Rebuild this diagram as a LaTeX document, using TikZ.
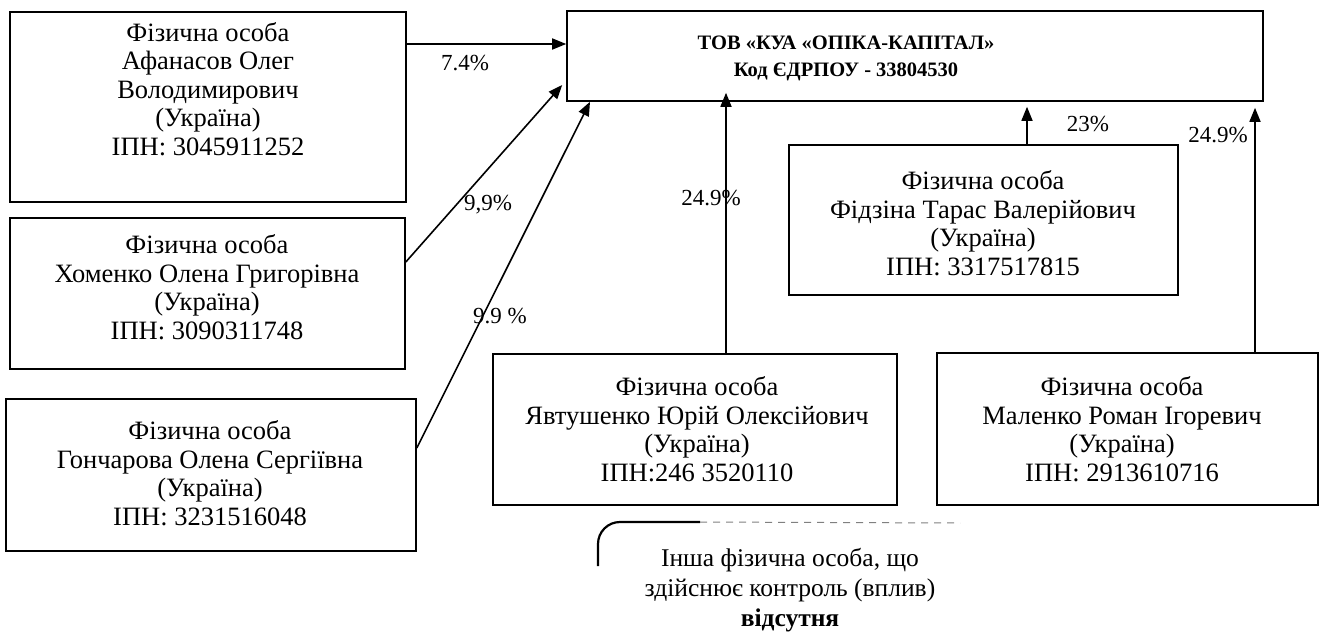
\documentclass[tikz,border=0pt]{standalone}
\usepackage{fontspec}
\setmainfont{Liberation Serif}
\usetikzlibrary{arrows.meta}
\tikzset{
  box/.style={draw, line width=1.6pt, inner sep=0pt},
  txt/.style={align=center, inner sep=0pt, font=\fontsize{26.5}{28.5}\selectfont},
  toptxt/.style={align=center, inner sep=0pt, font=\fontsize{20.5}{27}\selectfont\bfseries},
  arr/.style={line width=1.6pt, -{Triangle[length=14pt,width=11pt]}},
  lbl/.style={inner sep=0pt, font=\fontsize{23}{26}\selectfont}
}
\begin{document}
\begin{tikzpicture}[x=1pt,y=-1pt]
\useasboundingbox (0,0) rectangle (1322,634);
% boxes
\node[box, minimum width=696pt, minimum height=90pt] (top) at (915,56) {};
\node[box, minimum width=396pt, minimum height=190pt] (afa) at (208,107) {};
\node[box, minimum width=395pt, minimum height=151pt] (kho) at (207.5,293.5) {};
\node[box, minimum width=410pt, minimum height=152pt] (gon) at (211,475) {};
\node[box, minimum width=404pt, minimum height=151pt] (yav) at (695,429.5) {};
\node[box, minimum width=381pt, minimum height=152pt] (mal) at (1127.5,429) {};
\node[box, minimum width=389pt, minimum height=150pt] (fid) at (983.5,220) {};
% texts
\node[toptxt] (ttop) at (846,58.5) {ТОВ «КУА «ОПІКА-КАПІТАЛ»\\Код ЄДРПОУ - 33804530};
\node[txt] (tafa) at (208,89) {Фізична особа\\Афанасов Олег\\Володимирович\\(Україна)\\ІПН: 3045911252};
\node[txt] (tkho) at (207,287) {Фізична особа\\Хоменко Олена Григорівна\\(Україна)\\ІПН: 3090311748};
\node[txt] (tgon) at (210,473) {Фізична особа\\Гончарова Олена Сергіївна\\(Україна)\\ІПН: 3231516048};
\node[txt] (tyav) at (697,429) {Фізична особа\\Явтушенко Юрій Олексійович\\(Україна)\\ІПН:246 3520110};
\node[txt] (tmal) at (1122,429) {Фізична особа\\Маленко Роман Ігоревич\\(Україна)\\ІПН: 2913610716};
\node[txt] (tfid) at (983,223) {Фізична особа\\Фідзіна Тарас Валерійович\\(Україна)\\ІПН: 3317517815};
% helper coordinates
\coordinate (ya) at (0,44);
\coordinate (yk1) at (0,262);
\coordinate (yk2) at (0,85);
\coordinate (yg1) at (0,448);
\coordinate (xg2) at (590,0);
\coordinate (xy) at (726,0);
\coordinate (xf) at (1027,0);
\coordinate (xm) at (1255,0);
% connectors
\draw[arr] (afa.east |- ya) -- (top.west |- ya);
\draw[arr] (kho.east |- yk1) -- ([xshift=-4pt]top.west |- yk2);
\draw[arr] (gon.east |- yg1) -- (top.south -| xg2);
\draw[arr, shorten >=-9pt] (yav.north -| xy) -- (top.south -| xy);
\draw[arr, shorten >=5pt] (fid.north -| xf) -- (top.south -| xf);
\draw[arr, shorten >=6pt] (mal.north -| xm) -- (top.south -| xm);
% labels
\node[lbl] (la) at (465,63) {7.4\%};
\node[lbl] (lk) at (488,205) {9,9\%};
\node[lbl] (lg) at (500,316) {9.9 \%};
\node[lbl] (ly) at (711,198) {24.9\%};
\node[lbl] (lf) at (1088,124) {23\%};
\node[lbl] (lm) at (1218,135) {24.9\%};
% bottom note
\coordinate (b1) at (598,566);
\coordinate (b2) at (598,544);
\coordinate (b3) at (620,522);
\coordinate (b4) at (700,522);
\coordinate (b5) at (960,523);
\draw[line width=2.2pt] (b1) -- (b2) to[out=90,in=180] (b3) -- (b4);
\draw[line width=1pt, gray, dash pattern=on 7pt off 6pt] (b4) -- (b5);
\node[txt, font=\fontsize{25.5}{30}\selectfont] (note) at (790,590) {Інша фізична особа, що\\здійснює контроль (вплив)\\\textbf{відсутня}};
\end{tikzpicture}
\end{document}
